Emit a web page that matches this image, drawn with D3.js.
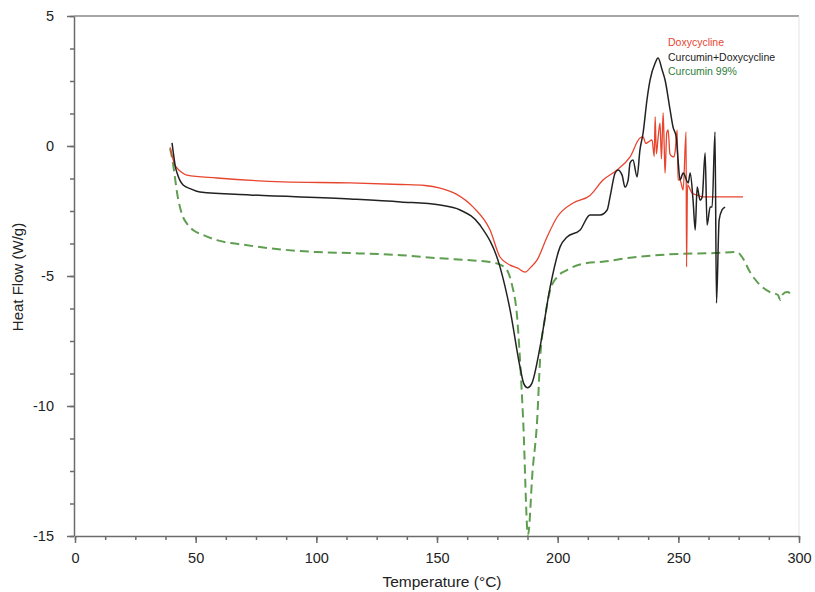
<!DOCTYPE html>
<html>
<head>
<meta charset="UTF-8">
<title>DSC</title>
<script src="https://cdn.jsdelivr.net/npm/d3@7"></script>
<style>
body{margin:0;background:#fff;}
text{font-family:"Liberation Sans",Arial,sans-serif;}
</style>
</head>
<body>
<script>
var width=815, height=592;
var xTicks=[0,50,100,150,200,250,300];
var yTicks=[-15,-10,-5,0,5];
var seriesNames=["Doxycycline","Curcumin+Doxycycline","Curcumin 99%"];
// [temperature, heat flow]
var doxy=[[39.4,-0.05],[40.3,-0.4],[41.2,-0.7],[42.3,-0.85],[44,-1.0],[46.4,-1.12],[58.8,-1.23],[86.2,-1.38],[114,-1.42],[135,-1.48],[145,-1.52],[151.3,-1.62],[158,-1.85],[165,-2.35],[172,-3.23],[176.1,-4.27],[180.3,-4.58],[183.5,-4.7],[186.5,-4.85],[189,-4.65],[191.5,-4.38],[195.6,-3.5],[199.8,-2.73],[206.4,-2.19],[213.4,-1.9],[218.8,-1.31],[224.6,-0.92],[230,-0.42],[234.1,0.31],[235.4,0.35],[236.5,0.1],[237.5,0.15],[239.1,0.23],[240,-0.4],[240.4,1.12],[240.9,-0.3],[241.6,0.3],[242.4,0.88],[243,-0.5],[243.7,1.27],[244.2,-0.2],[244.5,-1.04],[245.2,0.5],[245.8,0.62],[246.5,-0.3],[247.4,-0.4],[248.2,-0.42],[248.7,-0.2],[249.5,0.62],[249.9,-1.3],[250.7,-1.31],[252,-1.69],[253.2,0.54],[253.4,-4.65],[253.8,-1.5],[255.7,-1.81],[258,-1.9],[260.3,-1.96],[270,-1.96],[276.8,-1.96]];
var mix=[[40.2,0.12],[40.8,-0.3],[41.6,-0.8],[42.3,-1.04],[44.8,-1.5],[48,-1.65],[51.8,-1.77],[72.5,-1.88],[114,-2.04],[135,-2.15],[151.3,-2.27],[159.6,-2.46],[167.8,-3.04],[176.1,-4.65],[180.3,-6.31],[184.4,-8.5],[186,-9.15],[187.5,-9.3],[189.2,-9.15],[192.7,-7.73],[196.9,-5.42],[201,-3.88],[203.9,-3.5],[209.3,-3.23],[213.4,-2.65],[217.6,-2.65],[220.5,-2.46],[221.7,-1.96],[223.8,-1.04],[225,-0.92],[226.7,-1.12],[227.9,-1.58],[229.2,-1.31],[230,-0.65],[231.2,-0.54],[232.9,-1.19],[234.1,-0.15],[235.4,0.5],[237,1.77],[238.3,2.54],[240.4,3.19],[241.6,3.38],[243.3,2.92],[244.5,2.54],[246.6,1.38],[247.8,0.73],[249.1,0.35],[249.9,-0.54],[250.7,-1.31],[252,-1.04],[254.1,-1.42],[254.9,-1.04],[256.1,-2.08],[257,-3.23],[257.8,-1.58],[259,-2.08],[259.9,-1.96],[261.1,-0.27],[261.9,-3.04],[263.2,-2.35],[264,-2.35],[265.2,0.54],[265.8,-6.04],[266.9,-2.85],[268.1,-2.46],[269.4,-2.35]];
var curcumin=[[39.4,-0.1],[40.3,-0.5],[41.4,-1.2],[42.3,-1.8],[44.2,-2.59],[46.5,-3.0],[48.9,-3.23],[53,-3.42],[58.8,-3.62],[70,-3.8],[79.6,-3.92],[100.3,-4.08],[114,-4.12],[135,-4.2],[151.3,-4.32],[165,-4.4],[172,-4.46],[177,-4.6],[179,-4.77],[181.1,-5.35],[183.2,-6.58],[184.4,-8.23],[185.7,-10.54],[187.7,-14.96],[189.6,-12.5],[191.5,-10.54],[192.7,-8.23],[194.8,-6.58],[196.9,-5.54],[199.8,-5.04],[203.9,-4.77],[212.2,-4.5],[217.6,-4.46],[230,-4.3],[250,-4.15],[265,-4.12],[274.3,-4.08],[276.4,-4.27],[279.7,-4.85],[283.9,-5.35],[288,-5.62],[291.3,-5.73],[292.2,-5.92],[293,-5.73],[295.1,-5.62],[297.1,-5.73]];

var x=d3.scaleLinear().domain([0,300]).range([75,799]);
var y=d3.scaleLinear().domain([-15,5]).range([536,16]);

var svg=d3.select("body").append("svg").attr("width",width).attr("height",height);

// frame lines
svg.append("line").attr("x1",74).attr("x2",799).attr("y1",16).attr("y2",16)
   .attr("stroke","#8a8a8a").attr("stroke-width",1.5);
svg.append("line").attr("x1",799).attr("x2",799).attr("y1",16).attr("y2",536)
   .attr("stroke","#e4e4e4").attr("stroke-width",1);

// minor ticks
svg.append("g").attr("transform","translate(0,536)")
   .call(d3.axisBottom(x).tickValues(d3.range(0,301,12.5)).tickSize(4).tickFormat(""))
   .call(function(g){g.select(".domain").remove();g.selectAll("line").attr("stroke","#6b6b6b").attr("stroke-width",1.5);});
svg.append("g").attr("transform","translate(74,0)")
   .call(d3.axisLeft(y).tickValues(d3.range(-15,5.01,1.25)).tickSize(4).tickFormat(""))
   .call(function(g){g.select(".domain").remove();g.selectAll("line").attr("stroke","#6b6b6b").attr("stroke-width",1.5);});

// main axes (plain hyphen for negatives, as in the figure)
var fmt=function(d){return String(d);};
var xAxis=svg.append("g").attr("transform","translate(0,536)")
   .call(d3.axisBottom(x).tickValues(xTicks).tickFormat(fmt).tickSize(7).tickSizeOuter(0).tickPadding(10));
var yAxis=svg.append("g").attr("transform","translate(74,0)")
   .call(d3.axisLeft(y).tickValues(yTicks).tickFormat(fmt).tickSize(7).tickSizeOuter(0).tickPadding(13));
[xAxis,yAxis].forEach(function(g){
  g.select(".domain").attr("stroke","#6b6b6b").attr("stroke-width",1.5);
  g.selectAll(".tick line").attr("stroke","#6b6b6b").attr("stroke-width",1.5);
  g.selectAll("text").attr("font-size","14.5px").attr("fill","#222")
   .style("font-family","'Liberation Sans',Arial,sans-serif");
});

var line=d3.line().x(function(d){return x(d[0]);}).y(function(d){return y(d[1]);})
           .curve(d3.curveMonotoneX);

svg.append("path").datum(curcumin).attr("d",line).attr("fill","none")
   .attr("stroke","#5f9e50").attr("stroke-width",2).attr("stroke-dasharray","9,5");
svg.append("path").datum(doxy).attr("d",line).attr("fill","none")
   .attr("stroke","#e8452f").attr("stroke-width",1.3);
svg.append("path").datum(mix).attr("d",line).attr("fill","none")
   .attr("stroke","#222").attr("stroke-width",1.5);

// legend
var legColors=["#e8452f","#222","#2e7d3a"];
svg.selectAll(".leg").data(seriesNames).enter().append("text")
   .attr("class","leg")
   .attr("x",668)
   .attr("y",function(d,i){return 46+i*14.5;})
   .attr("font-size","10.5px")
   .attr("fill",function(d,i){return legColors[i];})
   .text(function(d){return d;});

// axis titles
svg.append("text").attr("x",442).attr("y",587).attr("text-anchor","middle")
   .attr("font-size","15.5px").attr("fill","#222").text("Temperature (°C)");
svg.append("text").attr("transform","translate(23,277) rotate(-90)").attr("text-anchor","middle")
   .attr("font-size","15px").attr("fill","#222").text("Heat Flow (W/g)");
</script>
</body>
</html>
